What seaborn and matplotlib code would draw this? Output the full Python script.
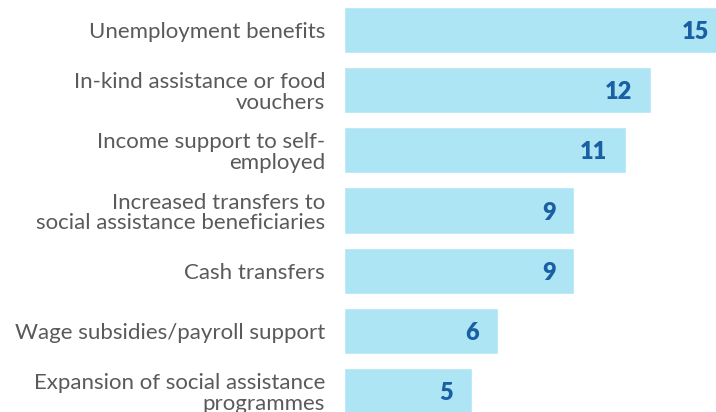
import matplotlib
matplotlib.use("Agg")
import matplotlib.pyplot as plt
import seaborn as sns
import pandas as pd

categories = [
    "Unemployment benefits",
    "In-kind assistance or food\nvouchers",
    "Income support to self-\nemployed",
    "Increased transfers to\nsocial assistance beneficiaries",
    "Cash transfers",
    "Wage subsidies/payroll support",
    "Expansion of social assistance\nprogrammes",
]
counts = [15, 12, 11, 9, 9, 6, 5]

df = pd.DataFrame({"measure": categories, "count": counts})

sns.set_style("white")
plt.rcParams["font.family"] = ["Lato", "DejaVu Sans"]

fig = plt.figure(figsize=(7.16, 4.12), dpi=100)
ax = fig.add_axes([344 / 716, 0, 1 - 344 / 716, 1])

sns.barplot(data=df, y="measure", x="count", orient="h", color="#ade5f5",
            saturation=1, width=0.77, ax=ax)

ax.set_xlim(0, 372 / 25.6)
ax.set_ylim(6.349, -0.4986)

for i, v in enumerate(counts):
    ax.annotate(str(v), xy=(v, i), xytext=(-13.5, -1.5), textcoords="offset points",
                ha="right", va="center", fontsize=17, fontweight="heavy",
                color="#1a5fa3", annotation_clip=False)

ax.set_xlabel("")
ax.set_ylabel("")
ax.set_xticks([])
ax.tick_params(axis="y", length=0, pad=13.5, labelsize=16, labelcolor="#5a5a5a")
for lab in ax.get_yticklabels():
    lab.set_ha("right")
    lab.set_multialignment("right")
    lab.set_linespacing(1.05)
sns.despine(ax=ax, left=True, bottom=True)

fig.savefig("out.png", dpi=100)
